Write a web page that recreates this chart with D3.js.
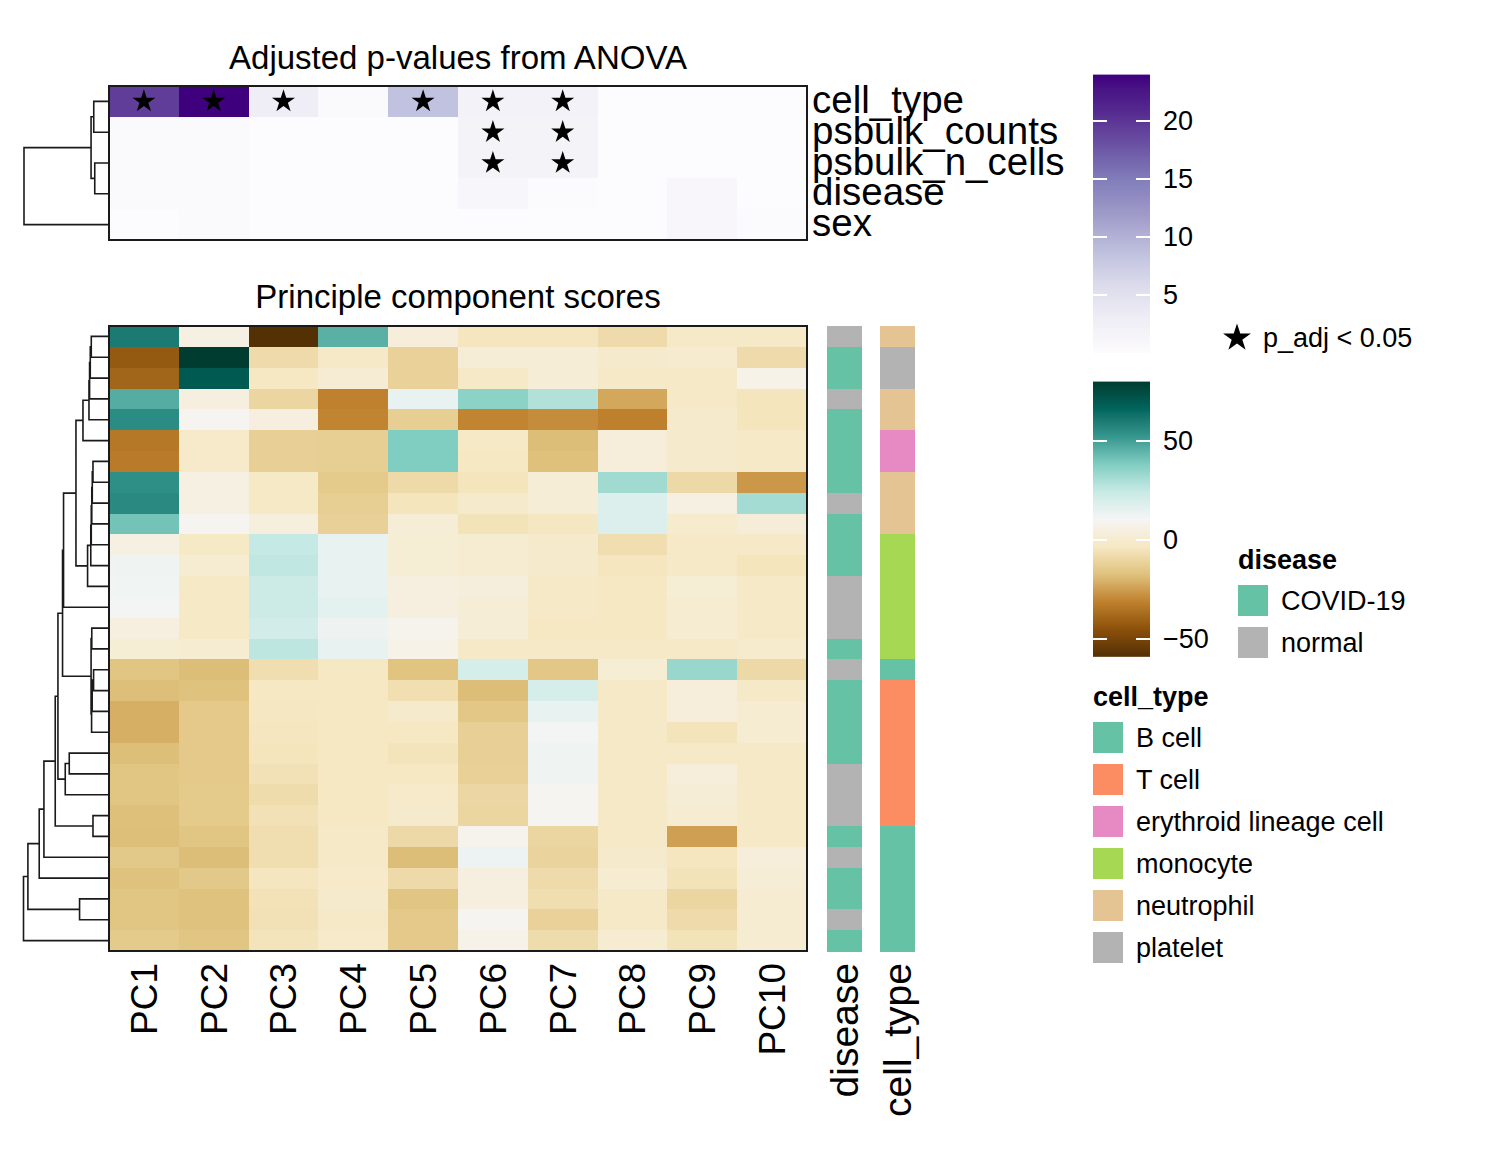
<!DOCTYPE html>
<html>
<head>
<meta charset="utf-8">
<script src="https://cdn.jsdelivr.net/npm/d3@7"></script>
<style>
  body { margin: 0; background: #fff; }
  svg { font-family: "Liberation Sans", Arial, Helvetica, sans-serif; }
</style>
</head>
<body>
<svg id="pc-heatmap"></svg>
<script>
const pcs = ['PC1', 'PC2', 'PC3', 'PC4', 'PC5', 'PC6', 'PC7', 'PC8', 'PC9', 'PC10'];
const covariates = ['cell_type', 'psbulk_counts', 'psbulk_n_cells', 'disease', 'sex'];

// -log10(adjusted p) per covariate x PC
const pvalScores = [
  [19.5, 24.0, 2.9, 0.5, 8.5, 2.0, 2.0, 0.1, 0.1, 0.1],
  [0.5, 0.5, 0.1, 0.1, 0.1, 1.8, 1.8, 0.1, 0.1, 0.1],
  [0.5, 0.5, 0.1, 0.1, 0.1, 1.8, 1.8, 0.1, 0.1, 0.1],
  [0.4, 0.4, 0.1, 0.1, 0.1, 1.1, 0.3, 0.1, 1.0, 0.1],
  [0.1, 0.4, 0.1, 0.1, 0.1, 0.1, 0.1, 0.1, 1.0, 0.3],
];

// PC scores per pseudobulk sample (rows in dendrogram order)
const sampleScores = [
  [60.4, 5.6, -59.0, 45.6, 3.3, -4.2, -4.2, -8.4, -2.0, -2.0],
  [-42.5, 80.0, -8.3, -2.0, -11.8, 2.3, 2.3, -0.9, 0.0, -8.4],
  [-39.0, 70.0, -3.4, 1.0, -11.8, -2.0, 2.3, -2.0, -2.0, 7.0],
  [46.8, 4.6, -10.3, -31.2, 14.4, 35.9, 28.9, -23.1, -2.0, -4.6],
  [55.3, 9.0, 4.6, -30.5, -13.0, -30.5, -28.8, -31.5, -0.9, -4.6],
  [-33.8, -1.5, -12.6, -13.0, 38.3, -2.6, -18.2, 3.2, -0.9, -2.0],
  [-32.9, -1.5, -12.6, -13.0, 38.3, -3.4, -17.5, 3.2, -0.9, -2.0],
  [54.5, 5.6, -2.5, -14.4, -8.5, -4.6, 2.3, 32.2, -9.0, -26.3],
  [55.9, 5.6, -2.5, -13.0, -4.6, -0.9, 2.3, 17.8, 5.6, 31.4],
  [40.7, 9.5, 4.0, -12.0, 2.0, -5.3, -3.8, 17.8, -0.5, 2.5],
  [5.6, -2.5, 24.9, 14.4, 1.5, 0.7, -0.9, -7.2, -2.0, -2.0],
  [12.3, 0.5, 25.8, 14.4, 1.5, 0.7, -0.9, -4.2, -2.0, -4.6],
  [12.0, -2.5, 22.9, 14.4, 4.6, 3.5, -2.0, -3.4, 1.5, -2.0],
  [11.0, -2.5, 22.9, 15.9, 4.6, 2.0, -2.0, -3.4, 0.7, -2.0],
  [4.6, -2.5, 21.0, 12.8, 8.0, 2.0, -3.4, -3.4, 0.7, -2.0],
  [1.5, 0.5, 26.3, 14.4, 7.0, -2.0, -2.0, -2.0, -2.0, -0.5],
  [-16.0, -18.2, -7.2, -3.4, -16.7, 19.8, -15.5, 1.5, 33.6, -9.0],
  [-18.0, -17.3, -3.4, -3.4, -6.8, -18.2, 19.8, -2.0, 3.2, -2.0],
  [-21.6, -14.6, -3.8, -3.4, -1.0, -15.5, 14.4, -2.0, 3.2, 0.7],
  [-21.6, -14.6, -4.2, -3.4, -3.4, -12.6, 11.0, -2.0, -5.0, 0.7],
  [-18.0, -14.6, -4.6, -3.4, -5.0, -12.6, 12.3, -2.0, -2.0, -2.0],
  [-16.0, -14.6, -6.0, -3.4, -3.4, -12.3, 12.3, -2.0, 3.2, -2.0],
  [-16.0, -14.4, -7.7, -3.4, -1.5, -9.5, 9.0, -2.0, 2.0, -2.0],
  [-17.8, -14.4, -6.0, -3.4, -1.0, -10.3, 9.0, -2.0, 0.7, -2.0],
  [-18.0, -16.0, -7.2, -2.0, -9.0, 8.0, -10.3, -2.0, -24.5, -2.0],
  [-14.8, -18.2, -7.2, -2.0, -18.2, 12.9, -11.0, -0.9, -4.0, 3.0],
  [-17.3, -14.8, -4.2, -1.5, -8.5, 4.6, -8.4, 0.7, -5.3, 2.3],
  [-16.0, -17.3, -5.5, -0.9, -16.0, 4.6, -7.2, -2.0, -10.3, 0.7],
  [-16.0, -17.3, -6.0, -2.0, -14.6, 9.0, -11.8, -2.0, -8.3, 0.7],
  [-14.4, -16.0, -5.0, -1.5, -14.6, 7.0, -7.7, 0.7, -5.3, 0.7],
];

const sampleDisease = [
  'normal', 'COVID-19', 'COVID-19', 'normal', 'COVID-19', 'COVID-19', 'COVID-19', 'COVID-19',
  'normal', 'COVID-19', 'COVID-19', 'COVID-19', 'normal', 'normal', 'normal', 'COVID-19',
  'normal', 'COVID-19', 'COVID-19', 'COVID-19', 'COVID-19', 'normal', 'normal', 'normal',
  'COVID-19', 'normal', 'COVID-19', 'COVID-19', 'normal', 'COVID-19',
];
const sampleCellType = [
  'neutrophil', 'platelet', 'platelet', 'neutrophil', 'neutrophil',
  'erythroid lineage cell', 'erythroid lineage cell', 'neutrophil', 'neutrophil', 'neutrophil',
  'monocyte', 'monocyte', 'monocyte', 'monocyte', 'monocyte', 'monocyte',
  'B cell', 'T cell', 'T cell', 'T cell', 'T cell', 'T cell', 'T cell', 'T cell',
  'B cell', 'B cell', 'B cell', 'B cell', 'B cell', 'B cell',
];

const diseaseLevels = ['COVID-19', 'normal'];
const cellTypeLevels = ['B cell', 'T cell', 'erythroid lineage cell', 'monocyte', 'neutrophil', 'platelet'];

// hclust-style merges: negative = leaf (1-based), positive = earlier merge step
const covariateMerges = [
  [-1, -2, 15.3], [-3, -4, 14.3], [1, 2, 18.0], [3, -5, 85.3],
];
const sampleMerges = [
  [-1, -2, 17.7], [1, -3, 18.7], [2, -4, 19.4], [3, -5, 20.0], [4, -6, 26.0],
  [-7, -8, 16.0], [6, -9, 16.7], [7, -10, 17.2], [8, -11, 17.7], [9, -12, 18.2],
  [10, -13, 21.4], [5, 11, 33.0], [12, -14, 45.4], [-15, -16, 17.2], [-17, -18, 15.4],
  [15, -19, 16.8], [16, -20, 17.4], [14, 17, 17.9], [13, 18, 46.4], [-21, -22, 39.7],
  [20, -23, 43.7], [19, 21, 51.0], [-24, -25, 16.0], [22, 23, 53.7], [24, -26, 65.0],
  [25, -27, 69.7], [-28, -29, 29.4], [26, 27, 81.0], [28, -30, 85.4],
];

const pvalTicks = [5, 10, 15, 20];
const scoreTicks = [-50, 0, 50];

// ---- styles
const diseaseColors = ['#66c2a5', '#b3b3b3'];
const cellTypeColors = ['#66c2a5', '#fc8d62', '#e78ac3', '#a6d854', '#e5c494', '#b3b3b3'];
const lineColor = '#1a1a1a';

const width = 1493;
const height = 1150;
const svg = d3.select('#pc-heatmap')
  .attr('width', width)
  .attr('height', height);

const hmLeft = 109;
const hmRight = 807;
const x = d3.scaleBand().domain(pcs).range([hmLeft, hmRight]);
const yTop = d3.scaleBand().domain(covariates).range([86, 240]);
const yMain = d3.scaleBand().domain(d3.range(sampleScores.length)).range([326, 951]);

const pMax = d3.max(pvalScores.flat());
const pvalColor = d3.scaleLinear()
  .domain(d3.range(9).map(i => pMax * i / 8))
  .range(d3.schemePurples[9])
  .interpolate(d3.interpolateLab);

const [sMin, sMax] = d3.extent(sampleScores.flat());
const scoreColor = d3.scaleLinear()
  .domain(d3.range(11).map(i => sMin + (sMax - sMin) * i / 10))
  .range(d3.schemeBrBG[11])
  .interpolate(d3.interpolateLab);

const diseaseColor = d3.scaleOrdinal(diseaseLevels, diseaseColors);
const cellTypeColor = d3.scaleOrdinal(cellTypeLevels, cellTypeColors);

// ---- top heatmap: ANOVA p-values
const topCells = covariates.flatMap((c, i) => pcs.map((p, j) => ({ c, p, v: pvalScores[i][j] })));

svg.append('g')
  .attr('shape-rendering', 'crispEdges')
  .selectAll('rect')
  .data(topCells)
  .join('rect')
    .attr('x', d => x(d.p))
    .attr('y', d => yTop(d.c))
    .attr('width', x.bandwidth() + 0.5)
    .attr('height', yTop.bandwidth() + 0.5)
    .attr('fill', d => pvalColor(d.v));

svg.append('g')
  .selectAll('path')
  .data(topCells.filter(d => d.v > -Math.log10(0.05)))
  .join('path')
    .attr('d', d3.symbol(d3.symbolStar, 165))
    .attr('transform', d => `translate(${x(d.p) + x.bandwidth() / 2}, ${yTop(d.c) + yTop.bandwidth() / 2})`)
    .attr('fill', '#000');

svg.append('rect')
  .attr('x', hmLeft)
  .attr('y', yTop.range()[0])
  .attr('width', hmRight - hmLeft)
  .attr('height', yTop.range()[1] - yTop.range()[0])
  .attr('fill', 'none')
  .attr('stroke', lineColor)
  .attr('stroke-width', 2);

svg.append('g')
  .selectAll('text')
  .data(covariates)
  .join('text')
    .attr('x', hmRight + 5)
    .attr('y', d => yTop(d) + yTop.bandwidth() / 2)
    .attr('dy', '0.3em')
    .attr('font-size', 38.5)
    .text(d => d);

svg.append('text')
  .attr('x', (hmLeft + hmRight) / 2)
  .attr('y', 69)
  .attr('text-anchor', 'middle')
  .attr('font-size', 33)
  .text('Adjusted p-values from ANOVA');

// ---- main heatmap: PC scores
const mainCells = sampleScores.flatMap((row, i) => row.map((v, j) => ({ i, p: pcs[j], v })));

svg.append('g')
  .attr('shape-rendering', 'crispEdges')
  .selectAll('rect')
  .data(mainCells)
  .join('rect')
    .attr('x', d => x(d.p))
    .attr('y', d => yMain(d.i))
    .attr('width', x.bandwidth() + 0.5)
    .attr('height', yMain.bandwidth() + 0.5)
    .attr('fill', d => scoreColor(d.v));

svg.append('rect')
  .attr('x', hmLeft)
  .attr('y', yMain.range()[0])
  .attr('width', hmRight - hmLeft)
  .attr('height', yMain.range()[1] - yMain.range()[0])
  .attr('fill', 'none')
  .attr('stroke', lineColor)
  .attr('stroke-width', 2);

svg.append('text')
  .attr('x', (hmLeft + hmRight) / 2)
  .attr('y', 308)
  .attr('text-anchor', 'middle')
  .attr('font-size', 33)
  .text('Principle component scores');

// Row annotations
const annoCols = [
  { name: 'disease', x: 827, values: sampleDisease, color: diseaseColor },
  { name: 'cell_type', x: 880, values: sampleCellType, color: cellTypeColor },
];
const annoWidth = 35;

annoCols.forEach(col => {
  svg.append('g')
    .attr('shape-rendering', 'crispEdges')
    .selectAll('rect')
    .data(col.values)
    .join('rect')
      .attr('x', col.x)
      .attr('y', (d, i) => yMain(i))
      .attr('width', annoWidth)
      .attr('height', yMain.bandwidth() + 0.5)
      .attr('fill', d => col.color(d));

  svg.append('text')
    .attr('transform', `translate(${col.x + annoWidth / 2}, 963) rotate(-90)`)
    .attr('text-anchor', 'end')
    .attr('dy', '0.35em')
    .attr('font-size', 39)
    .text(col.name);
});

// Column labels
svg.append('g')
  .selectAll('text')
  .data(pcs)
  .join('text')
    .attr('transform', d => `translate(${x(d) + x.bandwidth() / 2}, 963) rotate(-90)`)
    .attr('text-anchor', 'end')
    .attr('dy', '0.35em')
    .attr('font-size', 37)
    .text(d => d);

// ---- dendrograms
function drawDendrogram(merges, leafY, left, right) {
  const h = d3.scaleLinear()
    .domain([0, d3.max(merges, m => m[2])])
    .range([right, left]);
  const nodes = [];
  const get = id => (id < 0 ? { x: h(0), y: leafY[-id - 1] } : nodes[id - 1]);
  const path = d3.path();
  merges.forEach(([a, b, height]) => {
    const A = get(a);
    const B = get(b);
    const nx = h(height);
    path.moveTo(A.x, A.y);
    path.lineTo(nx, A.y);
    path.lineTo(nx, B.y);
    path.lineTo(B.x, B.y);
    nodes.push({ x: nx, y: (A.y + B.y) / 2 });
  });
  svg.append('path')
    .attr('d', path.toString())
    .attr('fill', 'none')
    .attr('stroke', lineColor)
    .attr('stroke-width', 1.6);
}

drawDendrogram(covariateMerges, covariates.map(c => yTop(c) + yTop.bandwidth() / 2), 24, hmLeft);
drawDendrogram(sampleMerges, sampleScores.map((r, i) => yMain(i) + yMain.bandwidth() / 2), 23.5, hmLeft);

// ---- legends
const barX = 1093;
const barW = 57;
const defs = svg.append('defs');

function colorBar(id, color, domain, yScale, ticks) {
  const grad = defs.append('linearGradient')
    .attr('id', id)
    .attr('x1', 0).attr('y1', 1)
    .attr('x2', 0).attr('y2', 0);
  d3.range(41).forEach(k => {
    const v = domain[0] + (domain[1] - domain[0]) * k / 40;
    grad.append('stop')
      .attr('offset', k / 40)
      .attr('stop-color', color(v));
  });
  svg.append('rect')
    .attr('x', barX)
    .attr('y', yScale(domain[1]))
    .attr('width', barW)
    .attr('height', yScale(domain[0]) - yScale(domain[1]))
    .attr('fill', `url(#${id})`);

  const g = svg.append('g');
  ticks.forEach(t => {
    [[barX, barX + 14], [barX + barW - 14, barX + barW]].forEach(([x1, x2]) => {
      g.append('line')
        .attr('x1', x1).attr('x2', x2)
        .attr('y1', yScale(t)).attr('y2', yScale(t))
        .attr('stroke', '#fff')
        .attr('stroke-width', 2);
    });
    g.append('text')
      .attr('x', barX + barW + 13)
      .attr('y', yScale(t))
      .attr('dy', '0.35em')
      .attr('font-size', 27)
      .text(d3.format('')(t));
  });
}

colorBar('pval-grad', pvalColor, [0, pMax],
  d3.scaleLinear().domain([5, 20]).range([295, 121]), pvalTicks);
colorBar('score-grad', scoreColor, [sMin, sMax],
  d3.scaleLinear().domain([-50, 50]).range([639, 441]), scoreTicks);

// Significance star
svg.append('path')
  .attr('d', d3.symbol(d3.symbolStar, 240))
  .attr('transform', 'translate(1237, 338)')
  .attr('fill', '#000');
svg.append('text')
  .attr('x', 1263)
  .attr('y', 338)
  .attr('dy', '0.35em')
  .attr('font-size', 27)
  .text('p_adj < 0.05');

function discreteLegend(title, levels, color, lx, ty) {
  const g = svg.append('g');
  g.append('text')
    .attr('x', lx)
    .attr('y', ty)
    .attr('font-size', 27)
    .attr('font-weight', 'bold')
    .text(title);
  levels.forEach((lvl, i) => {
    const sy = ty + 16 + i * 42;
    g.append('rect')
      .attr('x', lx)
      .attr('y', sy)
      .attr('width', 30)
      .attr('height', 31)
      .attr('fill', color(lvl));
    g.append('text')
      .attr('x', lx + 43)
      .attr('y', sy + 15.5)
      .attr('dy', '0.35em')
      .attr('font-size', 27)
      .text(lvl);
  });
}

discreteLegend('disease', diseaseLevels, diseaseColor, 1238, 569);
discreteLegend('cell_type', cellTypeLevels, cellTypeColor, 1093, 706);
</script>
</body>
</html>
